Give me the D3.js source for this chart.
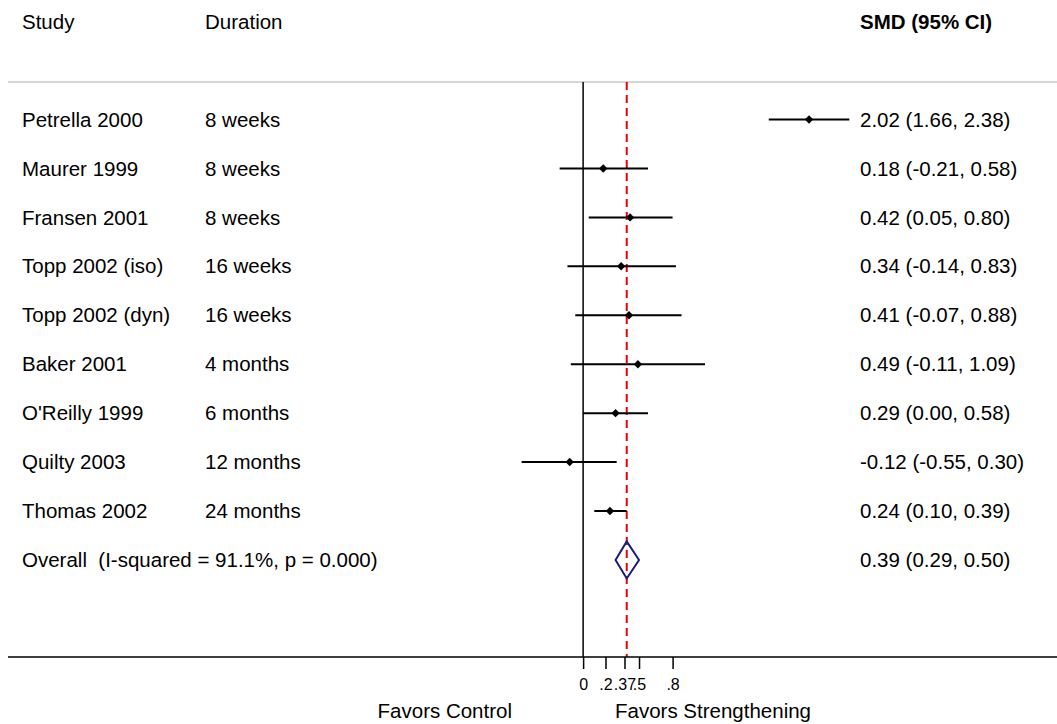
<!DOCTYPE html>
<html>
<head>
<meta charset="utf-8">
<script src="https://cdn.jsdelivr.net/npm/d3@7"></script>
<style>
  html, body { margin: 0; padding: 0; background: #fff; }
  svg { display: block; }
  text { font-family: "Liberation Sans", Arial, sans-serif; fill: #000; white-space: pre; }
</style>
</head>
<body>
<svg id="chart" width="1057" height="724"></svg>
<script>
// ---- Data ----
const studies = ["Petrella 2000", "Maurer 1999", "Fransen 2001", "Topp 2002 (iso)", "Topp 2002 (dyn)",
                 "Baker 2001", "O'Reilly 1999", "Quilty 2003", "Thomas 2002"];
const durations = ["8 weeks", "8 weeks", "8 weeks", "16 weeks", "16 weeks",
                   "4 months", "6 months", "12 months", "24 months"];
const smd   = [2.02, 0.18, 0.42, 0.34, 0.41, 0.49, 0.29, -0.12, 0.24];
const lower = [1.66, -0.21, 0.05, -0.14, -0.07, -0.11, 0.00, -0.55, 0.10];
const upper = [2.38, 0.58, 0.80, 0.83, 0.88, 1.09, 0.58, 0.30, 0.39];
const overallLabel = "Overall  (I-squared = 91.1%, p = 0.000)";
const overallEst = 0.39, overallLo = 0.29, overallHi = 0.50;
const tickValues = [0, 0.2, 0.37, 0.5, 0.8];
const tickLabels = ["0", ".2", ".37", ".5", ".8"];
const headers = ["Study", "Duration", "SMD (95% CI)"];
const favorLabels = ["Favors Control", "Favors Strengthening"];

const fmt = v => v.toFixed(2);
const ciText = (e, l, u) => `${fmt(e)} (${fmt(l)}, ${fmt(u)})`;

// ---- Layout ----
const svg = d3.select("#chart");
const x = d3.scaleLinear().domain([-0.55, 2.38]).range([521.6, 849.3]);
const y = d3.scaleLinear().domain([0, 8]).range([119.5, 511]);   // row index -> y
const colStudy = 22, colDur = 205, colCI = 860;
const fs = 20.5;
const topLineY = 82, axisY = 657;

// header
svg.selectAll("text.hdr").data(headers).join("text")
  .attr("class", "hdr")
  .attr("x", (d, i) => [colStudy, colDur, colCI][i])
  .attr("y", y(-2)).attr("dy", "0.35em")
  .style("font-size", fs + "px")
  .style("font-weight", (d, i) => i === 2 ? "bold" : "normal")
  .text(d => d);

// top gray rule
svg.append("line").attr("x1", 8).attr("x2", 1057).attr("y1", topLineY).attr("y2", topLineY)
  .attr("stroke", "#c8c8c8").attr("stroke-width", 1.5);

// null line
svg.append("line").attr("x1", x(0)).attr("x2", x(0)).attr("y1", topLineY).attr("y2", axisY)
  .attr("stroke", "#000").attr("stroke-width", 1.5);

// overall effect dashed line
svg.append("line").attr("x1", x(overallEst)).attr("x2", x(overallEst)).attr("y1", topLineY).attr("y2", axisY)
  .attr("stroke", "#ee0000").attr("stroke-width", 2).attr("stroke-dasharray", "8,5");

// rows
const rows = studies.map((s, i) => ({ s, dur: durations[i], e: smd[i], l: lower[i], u: upper[i], i }));

svg.selectAll("text.study").data(rows).join("text")
  .attr("x", colStudy).attr("y", d => y(d.i)).attr("dy", "0.35em")
  .style("font-size", fs + "px").text(d => d.s);
svg.selectAll("text.dur").data(rows).join("text")
  .attr("x", colDur).attr("y", d => y(d.i)).attr("dy", "0.35em")
  .style("font-size", fs + "px").text(d => d.dur);
svg.selectAll("text.ci").data(rows).join("text")
  .attr("x", colCI).attr("y", d => y(d.i)).attr("dy", "0.35em")
  .style("font-size", fs + "px").text(d => ciText(d.e, d.l, d.u));

svg.selectAll("line.ci").data(rows).join("line")
  .attr("x1", d => x(d.l)).attr("x2", d => x(d.u))
  .attr("y1", d => y(d.i)).attr("y2", d => y(d.i))
  .attr("stroke", "#000").attr("stroke-width", 2);

const ms = 4.2;
svg.selectAll("path.pt").data(rows).join("path")
  .attr("d", d => {
    const cx = x(d.e), cy = y(d.i);
    return `M${cx},${cy - ms}L${cx + ms},${cy}L${cx},${cy + ms}L${cx - ms},${cy}Z`;
  })
  .attr("fill", "#000");

// overall row
const oy = y(9);
svg.append("text").attr("x", colStudy).attr("y", oy).attr("dy", "0.35em")
  .attr("xml:space", "preserve")
  .style("font-size", fs + "px").text(overallLabel);
svg.append("text").attr("x", colCI).attr("y", oy).attr("dy", "0.35em")
  .style("font-size", fs + "px").text(ciText(overallEst, overallLo, overallHi));
const dh = 18.5;
svg.append("path")
  .attr("d", `M${x(overallLo)},${oy}L${x(overallEst)},${oy - dh}L${x(overallHi)},${oy}L${x(overallEst)},${oy + dh}Z`)
  .attr("fill", "none").attr("stroke", "#1a1a80").attr("stroke-width", 2);

// axis
svg.append("line").attr("x1", 8).attr("x2", 1057).attr("y1", axisY).attr("y2", axisY)
  .attr("stroke", "#000").attr("stroke-width", 1.5);
const axis = d3.axisBottom(x).tickValues(tickValues)
  .tickFormat((d, i) => tickLabels[i]).tickSize(12).tickPadding(9.5);
const ag = svg.append("g").attr("transform", `translate(0,${axisY})`).call(axis);
ag.select(".domain").remove();
ag.selectAll(".tick line").attr("stroke", "#000").attr("stroke-width", 1.5);
ag.selectAll(".tick text").style("font-size", "16px").style("font-family", "Liberation Sans, Arial, sans-serif").attr("fill", "#000");

// favors labels
svg.append("text").attr("x", 512).attr("y", 718).attr("text-anchor", "end")
  .style("font-size", fs + "px").text(favorLabels[0]);
svg.append("text").attr("x", 615).attr("y", 718).attr("text-anchor", "start")
  .style("font-size", fs + "px").text(favorLabels[1]);
</script>
</body>
</html>
